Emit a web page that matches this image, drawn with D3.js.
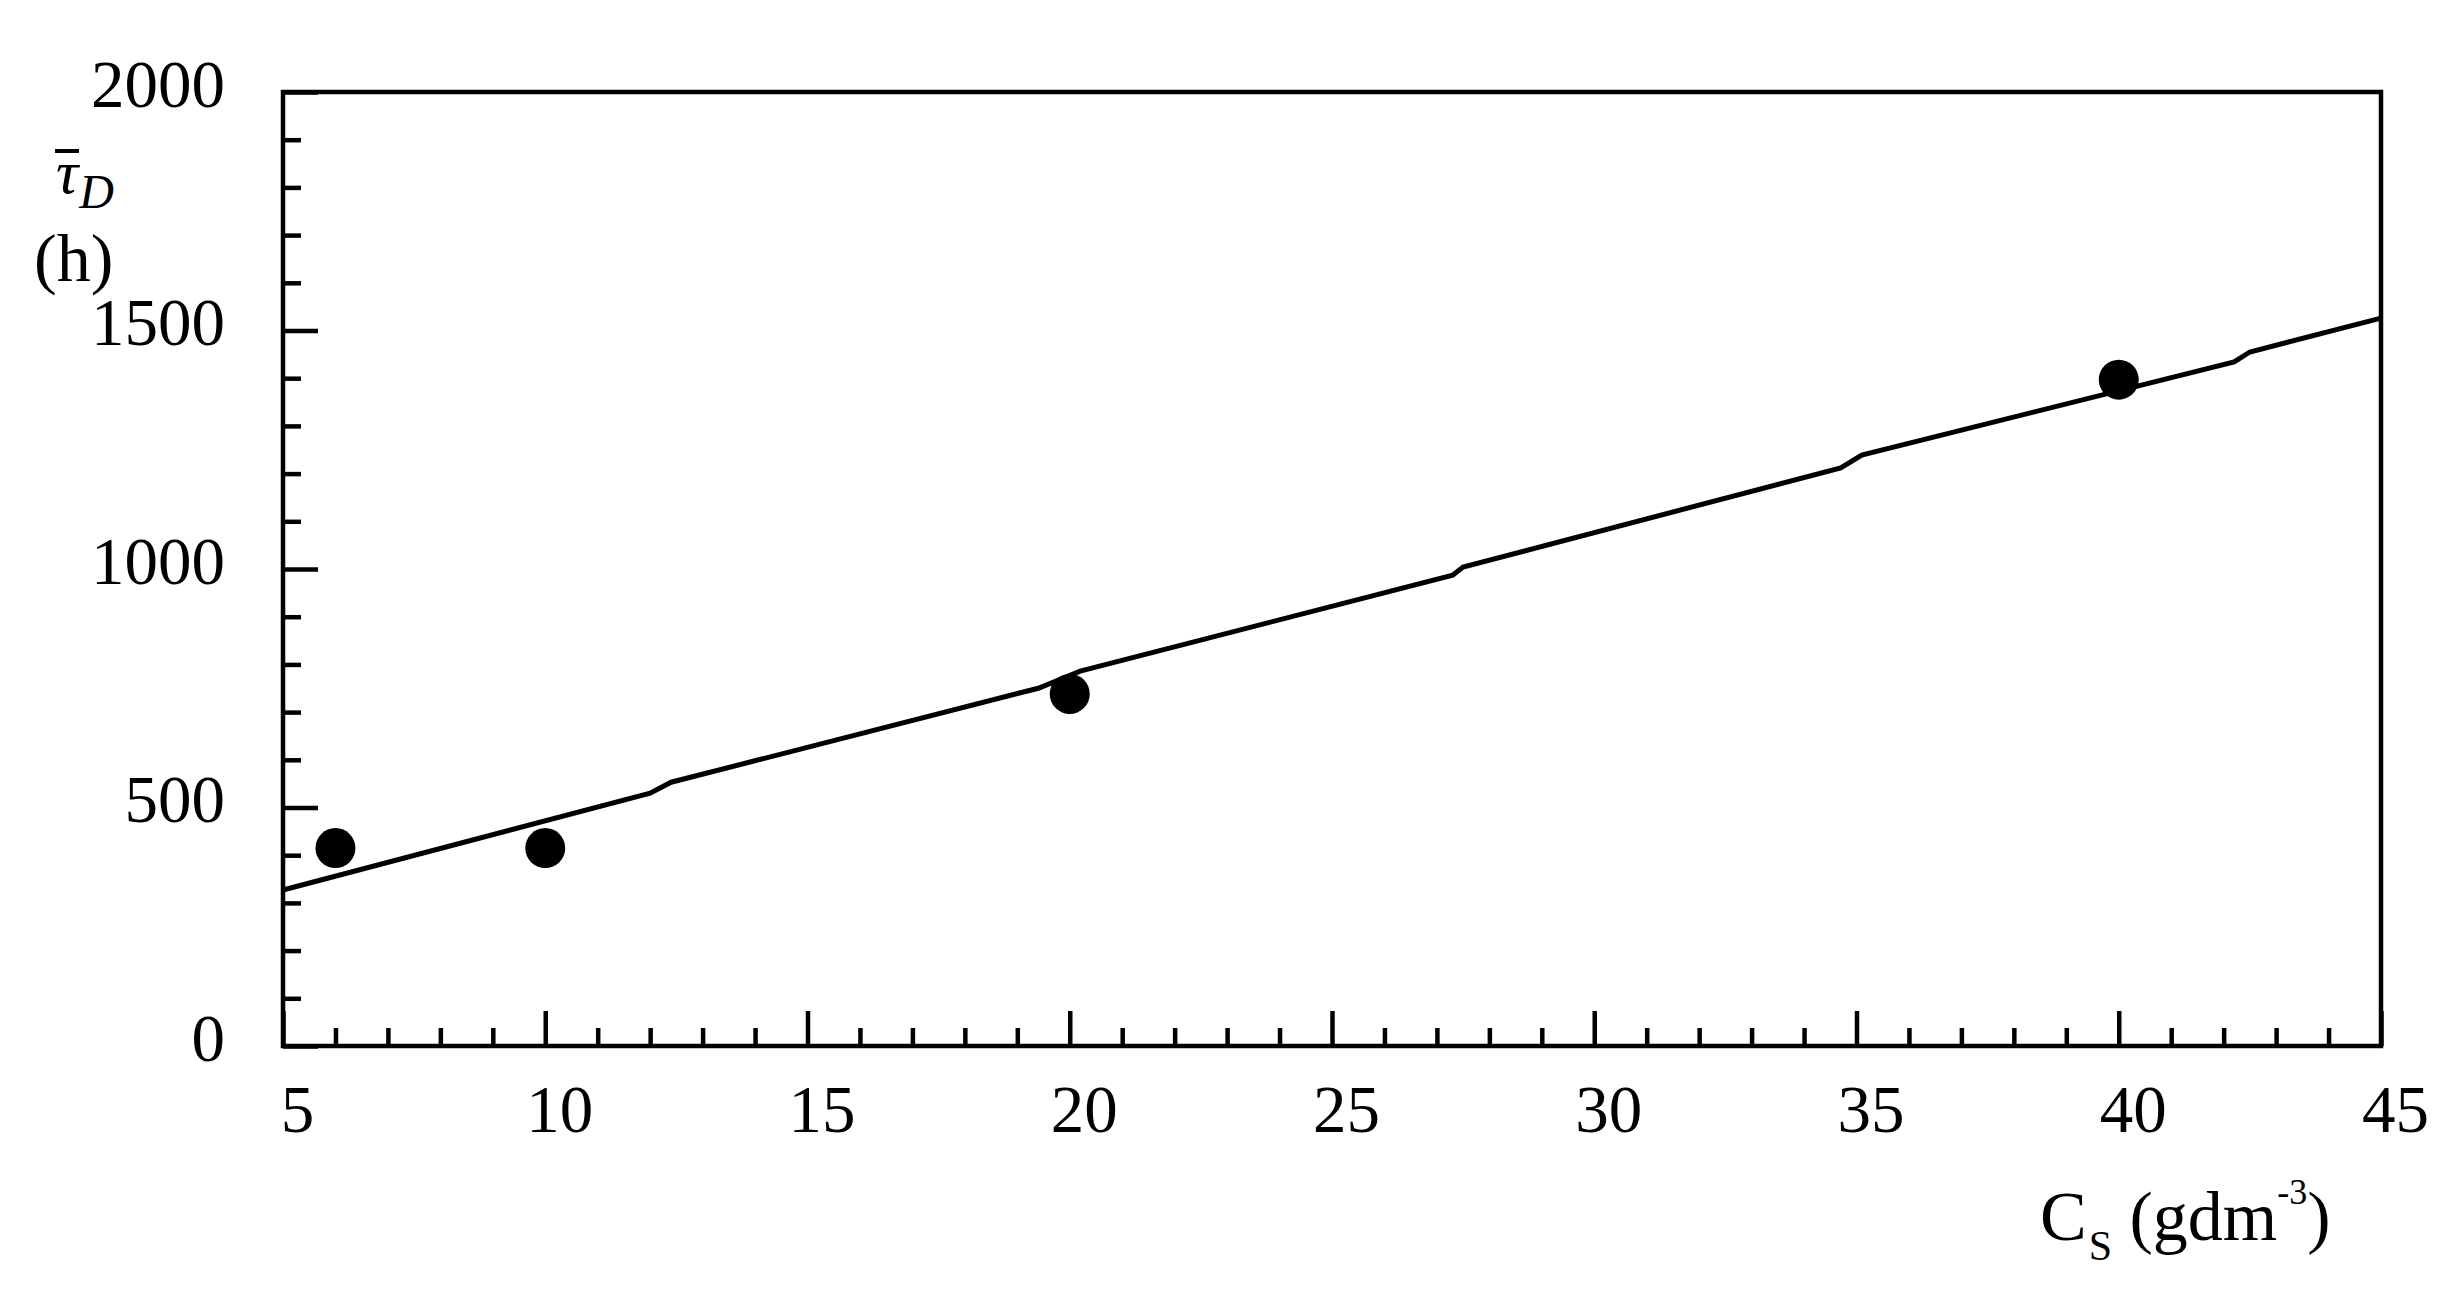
<!DOCTYPE html>
<html>
<head>
<meta charset="utf-8">
<script src="https://cdn.jsdelivr.net/npm/d3@7"></script>
<style>
    body { margin: 0; background: #fff; }
    svg { display: block; }
    text { fill: #000; font-family: "Liberation Serif", "Times New Roman", serif; }
</style>
</head>
<body>
<div id="chart"></div>
<script>
'use strict';

// tick labels
const xMajorTicks = [5, 10, 15, 20, 25, 30, 35, 40, 45];
const xMinorTicks = [6, 7, 8, 9, 11, 12, 13, 14, 16, 17, 18, 19, 21, 22, 23, 24, 26, 27, 28, 29, 31, 32, 33, 34, 36, 37, 38, 39, 41, 42, 43, 44];
const yMajorTicks = [0, 500, 1000, 1500, 2000];
const yMinorTicks = [100, 200, 300, 400, 600, 700, 800, 900, 1100, 1200, 1300, 1400, 1600, 1700, 1800, 1900];

// measured points
const pointX = [6, 10, 20, 40];
const pointY = [415, 415, 738, 1397];

// model curve
const curveX = [5, 12.0, 12.4, 19.4, 20.2, 27.3, 27.5, 34.7, 35.1, 42.2, 42.5, 45];
const curveY = [327, 530, 553, 750, 786, 987, 1004, 1212, 1239, 1434, 1455, 1526];

var Charts = function charts() {

    let svg = null;
    let layers = {};
    let xScale;
    let yScale;

    let renderSVG = function createSVG(element, config) {

        svg = d3.select(element)
            .append('svg')
            .attr('width', config.width)
            .attr('height', config.height);

        svg.append('rect')
            .attr('width', config.width)
            .attr('height', config.height)
            .attr('fill', '#fff');
    }

    let renderLayers = function renderLayers() {

        layers.data = svg.append('g').attr('class', 'data');
        layers.axis = svg.append('g').attr('class', 'axis');
        layers.labels = svg.append('g').attr('class', 'labels');
    }

    let setScale = function setScale(config) {

        xScale = d3.scaleLinear()
            .range([config.plot.left, config.plot.right])
            .domain([5, 45]);

        yScale = d3.scaleLinear()
            .range([config.plot.bottom, config.plot.top])
            .domain([0, 2000]);
    }

    let styleAxis = function styleAxis(g, config) {
        g.select('.domain').remove();
        g.selectAll('.tick line')
            .attr('stroke', '#000')
            .attr('stroke-width', config.stroke);
    }

    let renderYAxis = function renderYAxis(config) {

        let minor = d3.axisLeft(yScale)
            .tickValues(yMinorTicks)
            .tickSizeInner(-18)
            .tickSizeOuter(0)
            .tickFormat('');

        let major = d3.axisLeft(yScale)
            .tickValues(yMajorTicks)
            .tickSizeInner(-35)
            .tickSizeOuter(0)
            .tickPadding(58)
            .tickFormat(d3.format('d'));

        layers.axis.append('g')
            .attr('transform', 'translate(' + config.plot.left + ',0)')
            .call(minor)
            .call(g => styleAxis(g, config));

        let g = layers.axis.append('g')
            .attr('transform', 'translate(' + config.plot.left + ',0)')
            .call(major)
            .call(g => styleAxis(g, config));

        g.selectAll('.tick text')
            .attr('font-family', null)
            .attr('font-size', null)
            .style('font-size', '67px')
            .attr('dy', '14px');
    }

    let renderXAxis = function renderXAxis(config) {

        let minor = d3.axisBottom(xScale)
            .tickValues(xMinorTicks)
            .tickSizeInner(-18)
            .tickSizeOuter(0)
            .tickFormat('');

        let major = d3.axisBottom(xScale)
            .tickValues(xMajorTicks)
            .tickSizeInner(-35)
            .tickSizeOuter(0)
            .tickFormat(d3.format('d'));

        layers.axis.append('g')
            .attr('transform', 'translate(0,' + config.plot.bottom + ')')
            .call(minor)
            .call(g => styleAxis(g, config));

        let g = layers.axis.append('g')
            .attr('transform', 'translate(0,' + config.plot.bottom + ')')
            .call(major)
            .call(g => styleAxis(g, config));

        g.selectAll('.tick text')
            .attr('font-family', null)
            .attr('font-size', null)
            .style('font-size', '67px')
            .attr('y', 86)
            .attr('dy', 0)
            .attr('dx', 14);
    }

    let drawFrame = function drawFrame(config) {

        layers.axis.append('rect')
            .attr('x', xScale(5))
            .attr('y', yScale(2000))
            .attr('width', xScale(45) - xScale(5))
            .attr('height', yScale(0) - yScale(2000))
            .attr('fill', 'none')
            .attr('stroke', '#000')
            .attr('stroke-width', config.stroke)
            .attr('stroke-linejoin', 'miter');
    }

    let drawLine = function drawLine() {

        let data = curveX.map((x, i) => ({ x: x, y: curveY[i] }));

        let line = d3.line()
            .x(d => xScale(d.x))
            .y(d => yScale(d.y));

        layers.data.append('path')
            .datum(data)
            .attr('class', 'line')
            .attr('d', line)
            .attr('fill', 'none')
            .attr('stroke', '#000')
            .attr('stroke-width', 5);
    }

    let drawPoints = function drawPoints() {

        let data = pointX.map((x, i) => ({ x: x, y: pointY[i] }));

        layers.data.selectAll('.point')
            .data(data)
            .enter()
            .append('circle')
            .attr('class', 'point')
            .attr('cx', d => xScale(d.x))
            .attr('cy', d => yScale(d.y))
            .attr('r', 20)
            .attr('fill', '#000');
    }

    let drawTitles = function drawTitles() {

        // y title: tau with bar, subscript D, then (h)
        let yt = layers.labels.append('text')
            .attr('x', 56)
            .attr('y', 193)
            .style('font-style', 'italic')
            .style('font-size', '62px');
        yt.append('tspan').text('τ');
        yt.append('tspan')
            .attr('dx', 1)
            .attr('dy', 15)
            .style('font-size', '48px')
            .text('D');

        // bar over tau
        layers.labels.append('path')
            .attr('d', 'M55,151H79')
            .attr('stroke', '#000')
            .attr('stroke-width', 4);

        layers.labels.append('text')
            .attr('x', 34)
            .attr('y', 281)
            .style('font-size', '68px')
            .text('(h)');

        // x title
        let xt = layers.labels.append('text')
            .attr('x', 2040)
            .attr('y', 1240)
            .style('font-size', '70px');
        xt.append('tspan').text('C');
        xt.append('tspan')
            .attr('dx', 2)
            .attr('dy', 20)
            .style('font-size', '42px')
            .text('S');
        xt.append('tspan')
            .attr('dy', -20)
            .text('\u00a0(gdm');
        xt.append('tspan')
            .attr('dy', -36)
            .style('font-size', '36px')
            .text('-3');
        xt.append('tspan')
            .attr('dy', 36)
            .text(')');
    }

    let tauChart = function tauChart(el) {

        let config = {
            width: 2458,
            height: 1307,
            stroke: 4.5,
            plot: { left: 283, right: 2381, top: 92, bottom: 1046 }
        };

        renderSVG(el, config);
        renderLayers();
        setScale(config);
        drawLine();
        drawPoints();
        renderYAxis(config);
        renderXAxis(config);
        drawFrame(config);
        drawTitles();
    }

    return {
        tauChart: tauChart
    }
}

Charts().tauChart('#chart');
</script>
</body>
</html>
